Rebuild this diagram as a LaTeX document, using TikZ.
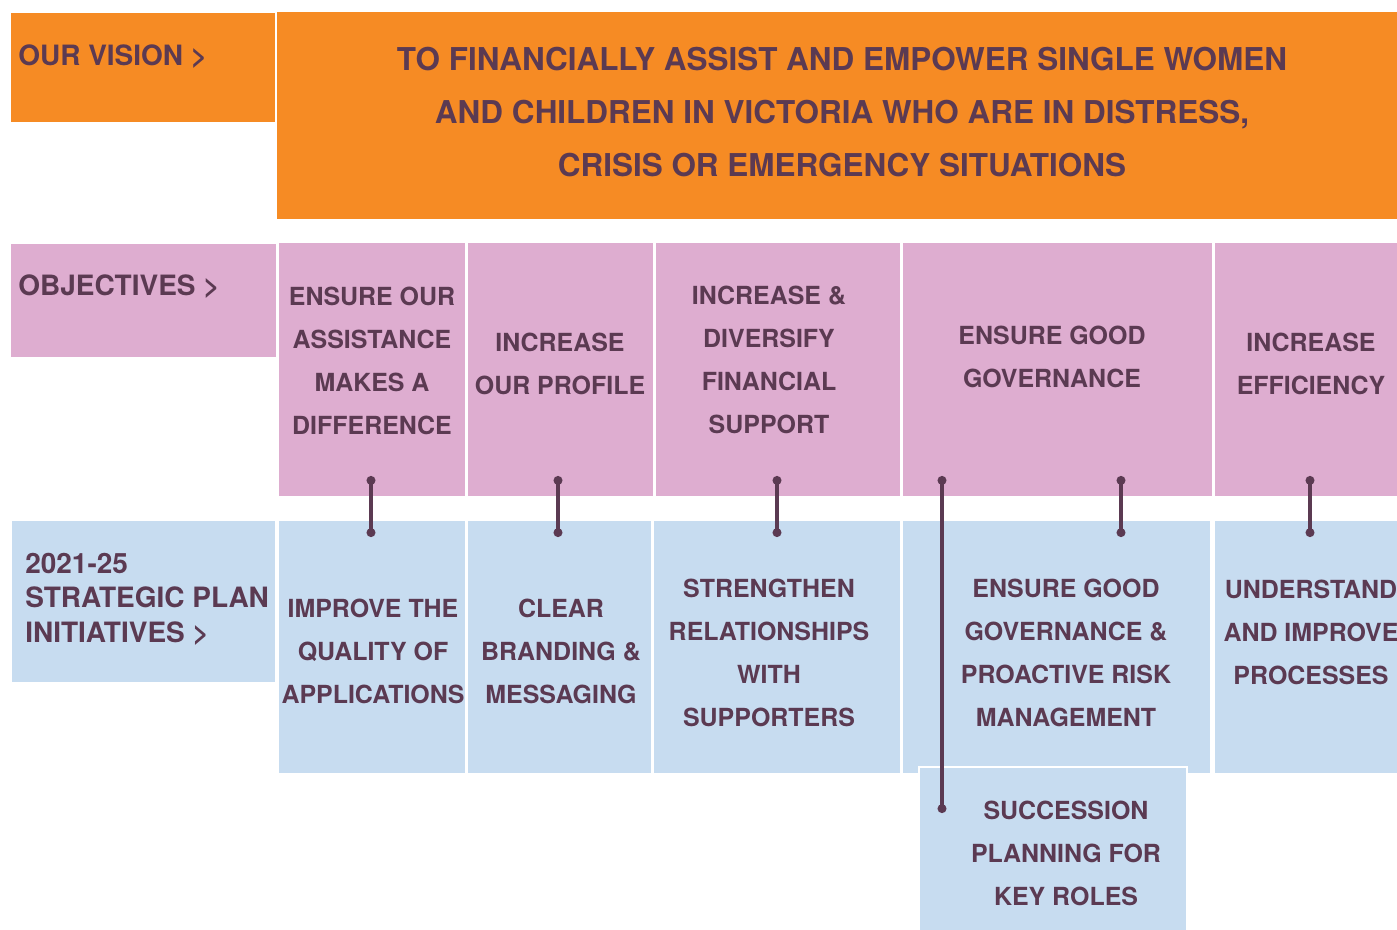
\documentclass[tikz,border=0pt]{standalone}
\usepackage{fontspec}
\setmainfont{TeX Gyre Heros}
\usetikzlibrary{arrows.meta}

\definecolor{visorange}{RGB}{246,139,36}
\definecolor{objpink}{RGB}{222,173,208}
\definecolor{initblue}{RGB}{199,220,240}
\definecolor{plum}{RGB}{91,58,82}

\tikzset{
  headtxt/.style={text=plum,font=\bfseries\fontsize{21}{26}\selectfont,inner sep=0pt,align=left,anchor=west},
  vistxt/.style={text=plum,font=\bfseries\fontsize{23.6}{40}\selectfont,inner sep=0pt,align=center},
  celltxt/.style={text=plum,font=\bfseries\fontsize{18.7}{32.3}\selectfont,inner sep=0pt,align=center},
  link/.style={draw=plum,line width=2.3pt,{Circle[length=6.6pt]}-{Circle[length=6.6pt]}}
}

\begin{document}
\begin{tikzpicture}[x=0.75pt,y=0.75pt,yscale=-1,xscale=1]

\path[use as bounding box,clip] (0,0) rectangle (1397,929);

% vision row
\fill[visorange] (11,13) rectangle (275,122);
\fill[visorange] (277,12) rectangle (1397,219);

% objectives row
\fill[objpink] (11,244) rectangle (276,357);
\fill[objpink] (279,243) rectangle (465,496);
\fill[objpink] (468,243) rectangle (653,496);
\fill[objpink] (656,243) rectangle (900,496);
\fill[objpink] (903,243) rectangle (1212,496);
\fill[objpink] (1215,243) rectangle (1397,496);

% initiatives row
\fill[initblue] (12,521) rectangle (275,682);
\fill[initblue] (279,521) rectangle (465,773);
\fill[initblue] (468,521) rectangle (651,773);
\fill[initblue] (654,521) rectangle (900,773);
\fill[initblue] (903,521) rectangle (1210,773);
\fill[initblue] (1215,521) rectangle (1397,773);
\draw[white,line width=2.2pt,fill=initblue] (919,767) rectangle (1187,940);

% row heads
\draw (18,57) node (vishead) [headtxt] {OUR VISION >};
\draw (18,287) node (objhead) [headtxt] {OBJECTIVES >};
\draw (25,599) node (inithead) [headtxt] {2021-25\\STRATEGIC PLAN\\INITIATIVES >};

\draw (842,112) node (vision) [vistxt] {TO FINANCIALLY ASSIST AND EMPOWER SINGLE WOMEN\\AND CHILDREN IN VICTORIA WHO ARE IN DISTRESS,\\CRISIS OR EMERGENCY SITUATIONS};

% objectives
\draw (372,361) node (obj1) [celltxt] {ENSURE OUR\\ASSISTANCE\\MAKES A\\DIFFERENCE};
\draw (560,364) node (obj2) [celltxt] {INCREASE\\OUR PROFILE};
\draw (769,360) node (obj3) [celltxt] {INCREASE \&\\DIVERSIFY\\FINANCIAL\\SUPPORT};
\draw (1052,357) node (obj4) [celltxt] {ENSURE GOOD\\GOVERNANCE};
\draw (1311,364) node (obj5) [celltxt] {INCREASE\\EFFICIENCY};

% initiatives
\draw (373,651) node (ini1) [celltxt] {IMPROVE THE\\QUALITY OF\\APPLICATIONS};
\draw (561,651) node (ini2) [celltxt] {CLEAR\\BRANDING \&\\MESSAGING};
\draw (769,653) node (ini3) [celltxt] {STRENGTHEN\\RELATIONSHIPS\\WITH\\SUPPORTERS};
\draw (1066,653) node (ini4) [celltxt] {ENSURE GOOD\\GOVERNANCE \&\\PROACTIVE RISK\\MANAGEMENT};
\draw (1311,632) node (ini5) [celltxt] {UNDERSTAND\\AND IMPROVE\\PROCESSES};
\draw (1066,853) node (ini6) [celltxt] {SUCCESSION\\PLANNING FOR\\KEY ROLES};

% link ends
\coordinate (o1) at (371,476);  \coordinate (i1) at (371,537);
\coordinate (o2) at (558,476);  \coordinate (i2) at (558,537);
\coordinate (o3) at (777,476);  \coordinate (i3) at (777,537);
\coordinate (o4) at (1121,476); \coordinate (i4) at (1121,537);
\coordinate (o5) at (1310,476); \coordinate (i5) at (1310,537);
\coordinate (o6) at (942,476);  \coordinate (i6) at (942,813);

\draw[link] (o1) -- (i1);
\draw[link] (o2) -- (i2);
\draw[link] (o3) -- (i3);
\draw[link] (o4) -- (i4);
\draw[link] (o5) -- (i5);
\draw[link] (o6) -- (i6);

\end{tikzpicture}
\end{document}
